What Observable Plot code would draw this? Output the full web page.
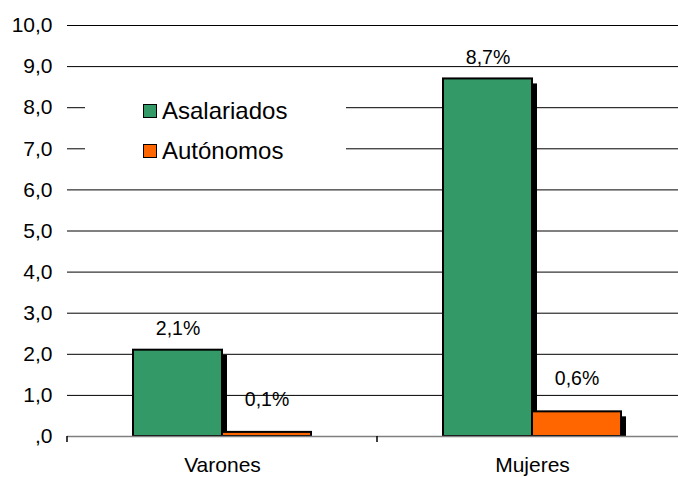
<!DOCTYPE html>
<html>
<head>
<meta charset="utf-8">
<script src="https://cdn.jsdelivr.net/npm/d3@7"></script>
<script src="https://cdn.jsdelivr.net/npm/@observablehq/plot@0.6"></script>
<style>
  html, body { margin: 0; padding: 0; background: #fff; }
  #wrap { position: relative; width: 678px; height: 477px; font-family: "Liberation Sans", Arial, sans-serif; }
  #legend { position: absolute; left: 85px; top: 88px; width: 261px; height: 84px; background: #fff; font-size: 24px; color: #000; }
  .row { position: absolute; left: 58px; display: flex; align-items: center; height: 24px; }
  .sw { width: 12px; height: 12px; border: 1.5px solid #000; margin-right: 5px; box-sizing: content-box; }
</style>
</head>
<body>
<div id="wrap"></div>
<script>
const categories = ["Varones", "Mujeres"];
const series = ["Asalariados", "Autónomos"];
const asalariados = [2.1, 8.7];
const autonomos = [0.1, 0.6];
const yTicks = [0, 1, 2, 3, 4, 5, 6, 7, 8, 9, 10];
const colors = ["#339966", "#FF6600"];

const rows = [];
categories.forEach((c, i) => {
  rows.push({cat: c, series: series[0], value: asalariados[i]});
  rows.push({cat: c, series: series[1], value: autonomos[i]});
});
const fmtTick = d => d === 0 ? ",0" : d.toFixed(1).replace(".", ",");
const fmtPct = d => d.toFixed(1).replace(".", ",") + "%";

const green = rows.filter(d => d.series === series[0]);
const orange = rows.filter(d => d.series === series[1]);

const barStyle = (data, color, inL, inR) => [
  Plot.barY(data, {x: "cat", y: "value", fill: "#000", insetLeft: inL, insetRight: inR, dx: 5, dy: 5, clip: true}),
  Plot.barY(data, {x: "cat", y: "value", fill: color, stroke: "#000", strokeWidth: 2, insetLeft: inL, insetRight: inR})
];

const edgeTicks = (index, scales, values, dimensions) => {
  const g = d3.create("svg:g");
  const x = scales.x, bw = x.bandwidth();
  const y0 = dimensions.height - dimensions.marginBottom;
  const edges = new Set();
  categories.forEach(c => { edges.add(x(c)); edges.add(x(c) + bw); });
  for (const e of edges) {
    g.append("line").attr("x1", e).attr("x2", e).attr("y1", y0).attr("y2", y0 + 6)
      .attr("stroke", "#000").attr("stroke-width", 1.5);
  }
  return g.node();
};

const chart = Plot.plot({
  width: 678,
  height: 477,
  marginLeft: 67,
  marginRight: 0,
  marginTop: 25,
  marginBottom: 41,
  style: {fontFamily: "'Liberation Sans', Arial, sans-serif", fontSize: "21px", color: "#000", background: "#fff"},
  x: {domain: categories, range: [67, 687], padding: 0, label: null},
  y: {domain: [0, 10], label: null},
  marks: [
    Plot.ruleY(yTicks.filter(d => d > 0), {stroke: "#000", strokeWidth: 1}),
    ...barStyle(green, colors[0], 66, 155),
    ...barStyle(orange, colors[1], 155, 66),
    Plot.ruleY([0], {stroke: "#808080", strokeWidth: 1.5}),
    edgeTicks,
    Plot.text(green, {x: "cat", y: "value", text: d => fmtPct(d.value), dx: -44.5, dy: -21, fill: "#000", fontSize: 19.5}),
    Plot.text(orange, {x: "cat", y: "value", text: d => fmtPct(d.value), dx: 44.5, dy: -33, fill: "#000", fontSize: 19.5}),
    Plot.axisY(yTicks, {tickSize: 0, tickPadding: 15, tickFormat: fmtTick, label: null}),
    Plot.axisX({tickSize: 0, tickPadding: 21, label: null})
  ]
});

const wrap = document.getElementById("wrap");
wrap.appendChild(chart);

const legend = document.createElement("div");
legend.id = "legend";
series.forEach((s, i) => {
  const r = document.createElement("div");
  r.className = "row";
  r.style.top = (11 + i * 39.5) + "px";
  const sw = document.createElement("div");
  sw.className = "sw";
  sw.style.background = colors[i];
  const t = document.createElement("span");
  t.textContent = s;
  r.appendChild(sw); r.appendChild(t);
  legend.appendChild(r);
});
wrap.appendChild(legend);
</script>
</body>
</html>
